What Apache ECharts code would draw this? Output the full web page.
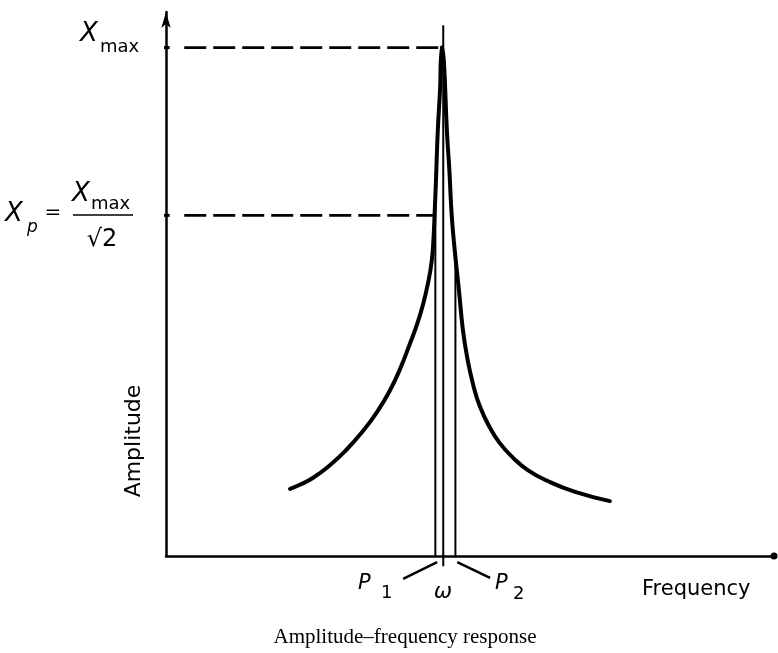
<!DOCTYPE html>
<html>
<head>
<meta charset="utf-8">
<script src="https://cdn.jsdelivr.net/npm/echarts@6/dist/echarts.min.js"></script>
<style>html,body{margin:0;padding:0;background:#fff;}#chart{width:778px;height:653px;}</style>
</head>
<body>
<div id="chart"></div>
<script>
// Resonance curve (frequency, amplitude as fraction of Xmax)
var leftBranch = [[20.4,0.132],[22.0,0.140],[24.2,0.154],[27.0,0.179],[29.6,0.208],[32.4,0.246],[34.7,0.283],[36.8,0.325],[38.5,0.368],[40.1,0.417],[41.3,0.456],[42.3,0.496],[43.1,0.537],[43.7,0.580],[44.0,0.625],[44.2,0.679],[44.4,0.738],[44.7,0.836],[45.1,0.924],[45.2,0.974],[45.4,1.0]];
var rightBranch = [[45.4,1.0],[45.7,0.974],[46.2,0.836],[46.6,0.760],[47.0,0.669],[47.5,0.600],[48.2,0.521],[48.8,0.448],[49.5,0.393],[50.5,0.338],[51.6,0.295],[53.3,0.252],[54.9,0.222],[57.1,0.193],[59.5,0.169],[62.7,0.148],[67.3,0.126],[73.0,0.108]];
var xMax = 1.0;
var xP = 0.67;
var omega = 45.6;
var p1 = 44.3;
var p2 = 47.6;
var p1Top = 0.72;
var p2Top = 0.59;
var omegaTop = 1.044;
var p1Leader = [[44.6,-0.012],[39.0,-0.045]];
var p2Leader = [[47.9,-0.012],[53.3,-0.043]];

var chart = echarts.init(document.getElementById('chart'), null, {renderer:'canvas'});
var blk = '#000';
function seg(data, w, dash) {
  return {type:'line', data:data, symbol:'none', clip:false, silent:true,
    lineStyle:{color:blk, width:w, type: dash ? [22,7] : 'solid'}, z:2};
}
function branch(data) {
  return {type:'line', data:data, smooth:0.5, symbol:'none', silent:true,
    lineStyle:{color:blk, width:4, cap:'round'}, z:3};
}
var sans = '"DejaVu Sans", sans-serif';
function txt(s, x, y, size, opts) {
  opts = opts || {};
  return {type:'text', x:x, y:y, rotation:opts.rot||0, style:{text:s, fill:blk,
    font:(opts.italic?'italic ':'') + size + 'px ' + (opts.font||sans),
    align:opts.align||'left', verticalAlign:'middle'}};
}
chart.setOption({
  animation:false,
  grid:{left:166, right:4, top:12, bottom:97},
  xAxis:{type:'value', min:0, max:100, axisLine:{show:true, lineStyle:{color:blk, width:2.5}, symbol:['none','circle'], symbolSize:[7,7]},
    axisTick:{show:false}, axisLabel:{show:false}, splitLine:{show:false}},
  yAxis:{type:'value', min:0, max:1.07, axisLine:{show:true, lineStyle:{color:blk, width:2.5}, symbol:['none','arrow'], symbolSize:[7,16]},
    axisTick:{show:false}, axisLabel:{show:false}, splitLine:{show:false}},
  series:[
    branch(leftBranch),
    branch(rightBranch),
    seg([[omega,-0.02],[omega,omegaTop]], 2),
    seg([[p1,0],[p1,p1Top]], 2),
    seg([[p2,0],[p2,p2Top]], 2),
    seg(p1Leader, 2.5),
    seg(p2Leader, 2.5),
    seg([[3,xMax],[45.2,xMax]], 2.8, true),
    seg([[3,xP],[44.0,xP]], 2.8, true),
    seg([[-2.2,xMax],[0.6,xMax]], 3),
    seg([[-2.2,xP],[0.6,xP]], 3)
  ],
  graphic:[
    txt('X', 80, 34, 26, {italic:true}),
    txt('max', 100, 47, 18),
    txt('X', 5, 214, 26, {italic:true}),
    txt('p', 27, 228, 17, {italic:true}),
    txt('=', 53, 213, 20, {align:'center'}),
    txt('X', 72, 194, 26, {italic:true}),
    txt('max', 91, 204, 18),
    {type:'line', shape:{x1:73, y1:215, x2:133, y2:215}, style:{stroke:blk, lineWidth:1.5}},
    txt('\u221A2', 102, 240, 24, {align:'center'}),
    txt('Amplitude', 134, 441, 22, {align:'center', rot:Math.PI/2}),
    txt('Frequency', 642, 590, 21),
    txt('P', 358, 584, 21, {italic:true}),
    txt('1', 381, 593, 18),
    txt('\u03C9', 443, 592, 22, {italic:true, align:'center'}),
    txt('P', 495, 584, 21, {italic:true}),
    txt('2', 513, 594, 18),
    txt('Amplitude\u2013frequency response', 405, 637, 21, {align:'center', font:'"Liberation Serif", serif'})
  ]
});
</script>
</body>
</html>
